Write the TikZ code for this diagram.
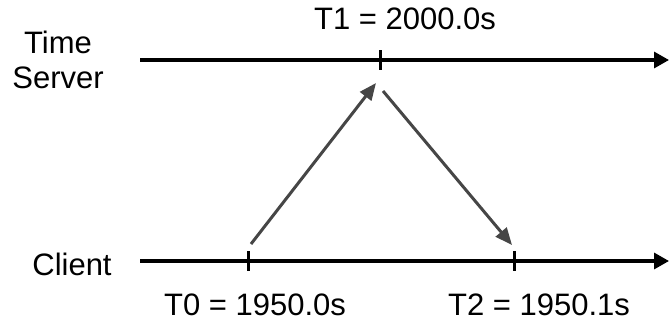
\documentclass[tikz,border=0pt]{standalone}
\usepackage{fontspec}
\setmainfont{Liberation Sans}
\usetikzlibrary{arrows.meta}

\definecolor{msggray}{HTML}{464646}

\begin{document}
\begin{tikzpicture}[x=1pt,y=-1pt,
    font=\fontsize{31}{35}\selectfont,
    axis/.style={line width=3.2pt,-{Triangle[length=15pt,width=16pt]}},
    tickmark/.style={line width=3pt},
    msg/.style={line width=3pt,draw=msggray,-{Triangle[length=17pt,width=14pt,fill=msggray]}},
    stamp/.style={anchor=base,inner sep=0pt}]

\useasboundingbox (0,0) rectangle (670,322);

% Time lines
\coordinate (srvA) at (140,60);
\coordinate (srvB) at (669,60);
\coordinate (cliA) at (140,261);
\coordinate (cliB) at (669,261);
\draw[axis] (srvA) -- (srvB);
\draw[axis] (cliA) -- (cliB);

% Ticks
\coordinate (t1) at (380,60);
\coordinate (t0) at (248,261);
\coordinate (t2) at (514,261);
\foreach \t in {t0,t1,t2}
    \draw[tickmark] ([yshift=10pt]\t) -- ([yshift=-10pt]\t);

% Lane names
\node[align=center,inner sep=0pt] (server) at (58,60) {Time\\Server};
\node[stamp] (client) at (72,275) {Client};

% Timestamps
\node[stamp] (t1lbl) at (405,29) {T1 = 2000.0s};
\node[stamp] (t0lbl) at (255,315) {T0 = 1950.0s};
\node[stamp] (t2lbl) at (539,315) {T2 = 1950.1s};

% Request and reply
\coordinate (reqA) at (251,244);
\coordinate (reqB) at (376,83);
\coordinate (repA) at (383,91);
\coordinate (repB) at (512,245);
\draw[msg] (reqA) -- (reqB);
\draw[msg] (repA) -- (repB);

\end{tikzpicture}
\end{document}
